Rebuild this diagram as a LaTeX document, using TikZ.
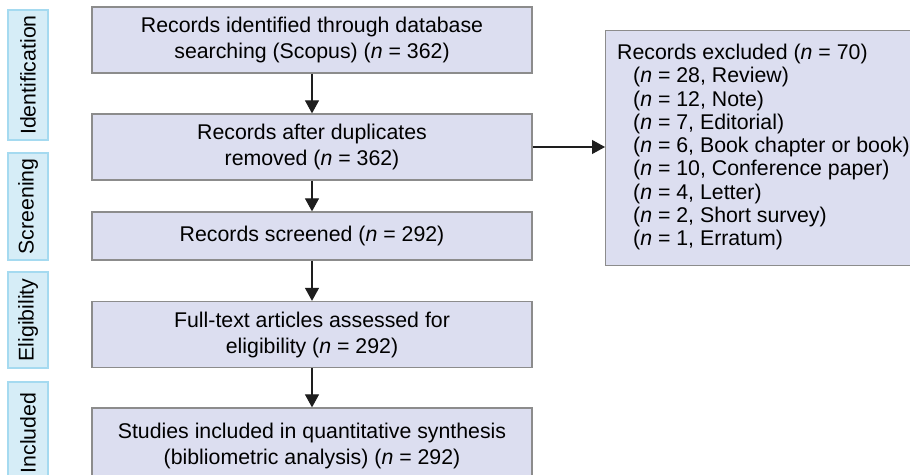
\documentclass[tikz,border=0pt]{standalone}
\usepackage{fontspec}
\setmainfont{Liberation Sans}
\usetikzlibrary{arrows.meta}
\definecolor{boxfill}{RGB}{220,222,240}
\definecolor{boxline}{RGB}{140,140,140}
\definecolor{sidefill}{RGB}{214,237,247}
\definecolor{sideline}{RGB}{165,218,240}
\definecolor{arrowcol}{RGB}{30,30,30}
\begin{document}
\begin{tikzpicture}[x=1pt,y=-1pt,
  mainbox/.style={draw=boxline, fill=boxfill, line width=1.3pt, minimum width=440pt, align=center, inner sep=0pt,
    font=\fontsize{21.3}{26}\selectfont},
  sidebox/.style={draw=sideline, fill=sidefill, line width=1.3pt, rotate=90, minimum height=40pt, inner sep=0pt,
    font=\fontsize{21.3}{26}\selectfont},
  arr/.style={draw=arrowcol, line width=1.1pt, -{Triangle[length=13pt,width=14pt]}}]
\useasboundingbox (0,0) rectangle (910,474);
\fill[white] (0,0) rectangle (910,474);
% side labels
\node[sidebox, minimum width=130pt] (s1) at (28,75) {Identification};
\node[sidebox, minimum width=107pt] (s2) at (28,206.5) {Screening};
\node[sidebox, minimum width=96pt] (s3) at (28,320) {Eligibility};
\node[sidebox, minimum width=102pt] (s4) at (28,433) {Included};
% main boxes
\node[mainbox, minimum height=66pt] (b1) at (312,40) {Records identified through database\\searching (Scopus) (\textit{n} = 362)};
\node[mainbox, minimum height=66pt] (b2) at (312,147) {Records after duplicates\\removed (\textit{n} = 362)};
\node[mainbox, minimum height=48pt] (b3) at (312,236) {Records screened (\textit{n} = 292)};
\node[mainbox, minimum height=66pt] (b4) at (312,334.5) {Full-text articles assessed for\\eligibility (\textit{n} = 292)};
\node[mainbox, minimum height=76pt] (b5) at (312,446) {Studies included in quantitative synthesis\\(bibliometric analysis) (\textit{n} = 292)};
% excluded box
\node[draw=boxline, fill=boxfill, line width=1.3pt, minimum width=312pt, minimum height=235pt, anchor=north west, inner sep=0pt] (ex) at (605,30) {};
\node[anchor=north west, align=left, inner sep=0pt, font=\fontsize{21.3}{23.25}\selectfont] (extxt) at (617,44) {%
Records excluded (\textit{n} = 70)\\
\hspace*{16pt}(\textit{n} = 28, Review)\\
\hspace*{16pt}(\textit{n} = 12, Note)\\
\hspace*{16pt}(\textit{n} = 7, Editorial)\\
\hspace*{16pt}(\textit{n} = 6, Book chapter or book)\\
\hspace*{16pt}(\textit{n} = 10, Conference paper)\\
\hspace*{16pt}(\textit{n} = 4, Letter)\\
\hspace*{16pt}(\textit{n} = 2, Short survey)\\
\hspace*{16pt}(\textit{n} = 1, Erratum)};
% arrows
\draw[arr] (b1) -- (b2);
\draw[arr] (b2) -- (b3);
\draw[arr] (b3) -- (b4);
\draw[arr] (b4) -- (b5);
\draw[arr] (b2.east) -- (b2.east -| ex.west);
\end{tikzpicture}
\end{document}
